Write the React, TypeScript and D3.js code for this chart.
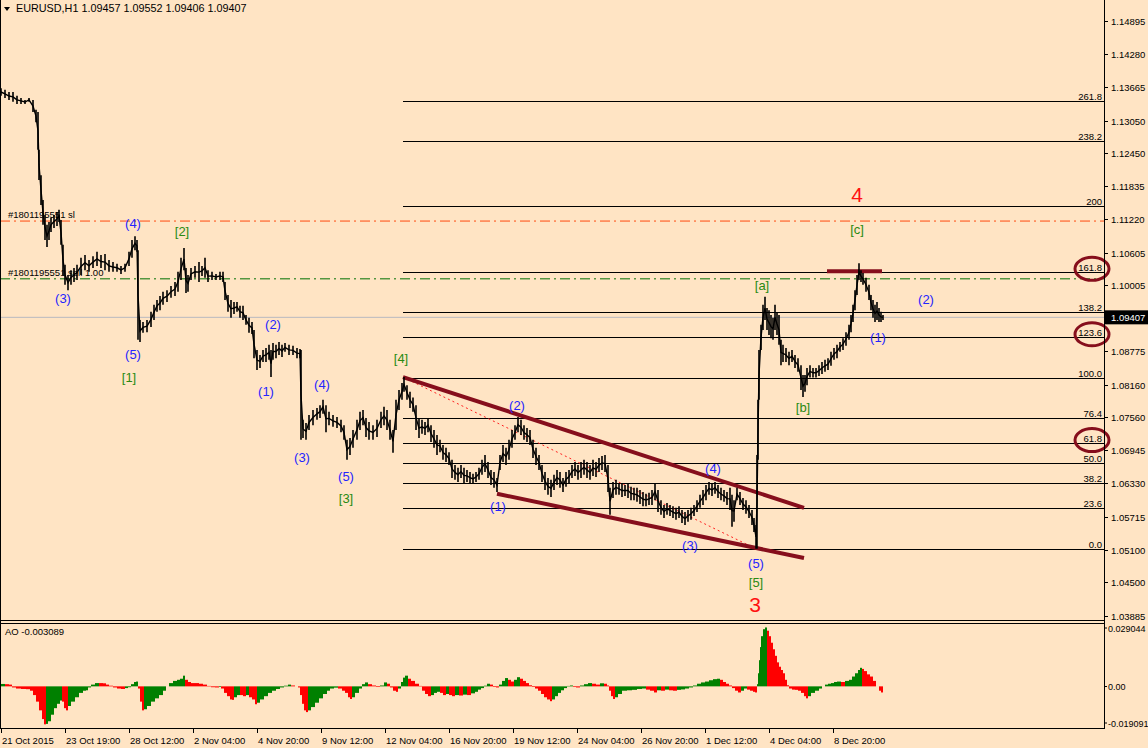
import React, { useEffect } from "react";
import * as d3 from "d3";

// ---------------- DATA ----------------
const symbolHeader = "EURUSD,H1  1.09457 1.09552 1.09406 1.09407";
const aoHeader = "AO -0.003089";
const lastPrice = 1.09407;

const priceTickLabels = ["1.14895","1.14280","1.13665","1.13050","1.12450","1.11835","1.11220","1.10605","1.10005","1.08775","1.08160","1.07560","1.06945","1.06330","1.05715","1.05100","1.04500","1.03885"];
const aoTickLabels = ["0.029044", "0.00", "-0.019091"];
const aoTickValues = [0.029044, 0, -0.019091];

const timeTickBars = [0, 64, 128, 192, 256, 320, 384, 448, 512, 576, 640, 704, 768, 832];
const timeTickLabels = ["21 Oct 2015","23 Oct 19:00","28 Oct 12:00","2 Nov 04:00","4 Nov 20:00","9 Nov 12:00","12 Nov 04:00","16 Nov 20:00","19 Nov 12:00","24 Nov 04:00","26 Nov 20:00","1 Dec 12:00","4 Dec 04:00","8 Dec 20:00"];

// sampled hourly bars (bar index, high, low)
const barIdx = [0,4,8,12,16,20,24,28,32,35,37,38,40,42,44,46,48,50,53,56,58,60,62,64,67,70,73,76,80,84,88,92,96,100,104,108,112,116,120,124,128,131,134,136,137,139,142,146,150,153,156,159,162,166,170,174,177,180,183,185,187,190,194,198,201,204,207,211,215,219,222,224,227,230,233,236,239,242,245,248,251,253,256,259,262,265,268,270,272,275,278,281,284,288,292,296,299,300,302,305,308,312,316,319,322,325,328,332,336,340,343,346,349,352,356,359,362,365,368,372,376,380,383,386,389,392,395,398,401,403,406,409,412,415,418,421,424,427,430,433,436,439,442,445,448,451,454,457,460,463,466,469,472,475,478,481,484,487,490,493,496,499,502,505,508,511,514,517,520,523,526,529,532,535,538,541,544,547,550,553,556,559,562,565,568,571,574,577,580,583,586,589,592,595,598,601,604,607,609,612,615,618,621,624,627,630,633,636,639,642,645,648,651,654,657,660,663,666,669,672,675,678,681,684,687,690,693,696,699,702,705,708,711,714,717,720,723,726,729,731,733,736,739,742,745,748,751,753,755,756,757,758,760,762,764,766,768,770,772,774,776,778,780,782,785,788,791,794,797,800,802,804,806,809,812,815,818,821,824,827,830,833,836,839,842,845,848,850,852,854,856,858,860,862,865,868,870,872,874,876,878,880,882];
const barHigh = [1.1365,1.1362,1.1358,1.1358,1.1351,1.1347,1.1343,1.1347,1.1343,1.1325,1.1321,1.1251,1.1204,1.1158,1.1130,1.1112,1.1117,1.1125,1.1130,1.1136,1.1140,1.1121,1.1075,1.1038,1.1019,1.1028,1.1032,1.1038,1.1051,1.1056,1.1047,1.1054,1.1062,1.1056,1.1058,1.1047,1.1043,1.1040,1.1036,1.1040,1.1062,1.1084,1.1091,1.1084,1.1065,1.0936,1.0932,1.0936,1.0951,1.0964,1.0973,1.0980,1.0988,1.0991,1.0999,1.1006,1.1025,1.1051,1.1069,1.1032,1.1019,1.1032,1.1036,1.1043,1.1036,1.1051,1.1028,1.1025,1.1021,1.1025,1.1025,1.1006,1.0982,1.0973,1.0969,1.0969,1.0962,1.0962,1.0945,1.0940,1.0932,1.0917,1.0880,1.0871,1.0880,1.0884,1.0890,1.0880,1.0893,1.0890,1.0895,1.0890,1.0893,1.0890,1.0888,1.0884,1.0882,1.0880,1.0751,1.0745,1.0760,1.0769,1.0773,1.0778,1.0788,1.0778,1.0766,1.0760,1.0756,1.0751,1.0741,1.0714,1.0717,1.0732,1.0751,1.0766,1.0769,1.0754,1.0747,1.0741,1.0751,1.0766,1.0775,1.0769,1.0751,1.0732,1.0788,1.0806,1.0819,1.0830,1.0815,1.0803,1.0792,1.0778,1.0754,1.0751,1.0747,1.0754,1.0741,1.0732,1.0723,1.0714,1.0704,1.0699,1.0691,1.0677,1.0667,1.0662,1.0667,1.0662,1.0658,1.0654,1.0651,1.0654,1.0662,1.0677,1.0686,1.0673,1.0658,1.0654,1.0643,1.0686,1.0704,1.0699,1.0714,1.0732,1.0741,1.0756,1.0751,1.0741,1.0736,1.0732,1.0714,1.0699,1.0686,1.0667,1.0654,1.0643,1.0640,1.0649,1.0658,1.0654,1.0643,1.0654,1.0658,1.0667,1.0673,1.0667,1.0673,1.0677,1.0673,1.0667,1.0677,1.0673,1.0680,1.0684,1.0686,1.0667,1.0625,1.0636,1.0640,1.0634,1.0632,1.0630,1.0634,1.0627,1.0625,1.0625,1.0621,1.0617,1.0614,1.0616,1.0621,1.0634,1.0621,1.0602,1.0593,1.0597,1.0593,1.0591,1.0588,1.0591,1.0584,1.0580,1.0584,1.0588,1.0593,1.0602,1.0612,1.0621,1.0630,1.0636,1.0632,1.0636,1.0630,1.0625,1.0621,1.0617,1.0625,1.0612,1.0602,1.0625,1.0617,1.0606,1.0602,1.0593,1.0584,1.0569,1.0556,1.0686,1.0788,1.0880,1.0927,1.0964,1.0979,1.0958,1.0954,1.0945,1.0940,1.0964,1.0949,1.0945,1.0899,1.0890,1.0884,1.0877,1.0880,1.0871,1.0865,1.0852,1.0834,1.0834,1.0847,1.0852,1.0847,1.0847,1.0852,1.0858,1.0862,1.0865,1.0877,1.0884,1.0890,1.0895,1.0902,1.0913,1.0927,1.0945,1.0964,1.0991,1.1019,1.1041,1.1028,1.1023,1.1014,1.1001,1.0982,1.0973,1.0964,1.0969,1.0958,1.0951,1.0945];
const barLow = [1.1351,1.1347,1.1343,1.1340,1.1336,1.1336,1.1336,1.1340,1.1321,1.1302,1.1251,1.1195,1.1149,1.1112,1.1084,1.1071,1.1084,1.1099,1.1106,1.1110,1.1117,1.1075,1.1019,1.1001,1.0991,1.1001,1.1006,1.1010,1.1019,1.1028,1.1025,1.1032,1.1036,1.1032,1.1028,1.1025,1.1025,1.1025,1.1021,1.1025,1.1036,1.1051,1.1065,1.1062,1.0899,1.0895,1.0912,1.0913,1.0923,1.0936,1.0951,1.0954,1.0964,1.0969,1.0977,1.0980,1.0988,1.1010,1.1028,1.0986,1.0988,1.1010,1.1014,1.1006,1.1017,1.1014,1.1006,1.1010,1.1010,1.1010,1.1006,1.0973,1.0951,1.0940,1.0947,1.0951,1.0940,1.0936,1.0927,1.0912,1.0910,1.0865,1.0843,1.0847,1.0858,1.0858,1.0862,1.0830,1.0862,1.0865,1.0871,1.0867,1.0877,1.0871,1.0871,1.0865,1.0865,1.0714,1.0717,1.0714,1.0732,1.0741,1.0751,1.0754,1.0762,1.0728,1.0741,1.0738,1.0736,1.0728,1.0714,1.0677,1.0686,1.0699,1.0714,1.0732,1.0741,1.0719,1.0714,1.0714,1.0719,1.0736,1.0741,1.0732,1.0714,1.0690,1.0732,1.0769,1.0788,1.0803,1.0788,1.0773,1.0766,1.0732,1.0717,1.0725,1.0723,1.0728,1.0710,1.0699,1.0686,1.0691,1.0677,1.0673,1.0667,1.0643,1.0640,1.0636,1.0643,1.0634,1.0636,1.0634,1.0632,1.0636,1.0640,1.0649,1.0654,1.0643,1.0630,1.0625,1.0617,1.0658,1.0673,1.0667,1.0677,1.0699,1.0714,1.0728,1.0723,1.0714,1.0710,1.0704,1.0680,1.0667,1.0658,1.0636,1.0621,1.0612,1.0608,1.0621,1.0630,1.0625,1.0617,1.0627,1.0634,1.0643,1.0647,1.0640,1.0643,1.0649,1.0643,1.0640,1.0647,1.0645,1.0654,1.0658,1.0654,1.0617,1.0575,1.0606,1.0612,1.0612,1.0608,1.0610,1.0606,1.0602,1.0602,1.0599,1.0595,1.0591,1.0591,1.0593,1.0593,1.0602,1.0580,1.0575,1.0569,1.0575,1.0573,1.0569,1.0566,1.0569,1.0560,1.0556,1.0562,1.0566,1.0573,1.0580,1.0588,1.0593,1.0602,1.0612,1.0610,1.0614,1.0606,1.0602,1.0599,1.0593,1.0584,1.0553,1.0562,1.0602,1.0593,1.0584,1.0577,1.0569,1.0556,1.0543,1.0512,1.0512,1.0677,1.0788,1.0880,1.0917,1.0936,1.0917,1.0908,1.0902,1.0899,1.0917,1.0908,1.0890,1.0852,1.0858,1.0858,1.0852,1.0858,1.0847,1.0840,1.0806,1.0793,1.0803,1.0815,1.0829,1.0829,1.0829,1.0832,1.0836,1.0840,1.0843,1.0851,1.0862,1.0865,1.0877,1.0880,1.0888,1.0899,1.0913,1.0932,1.0954,1.0982,1.1010,1.1006,1.1001,1.0988,1.0973,1.0954,1.0940,1.0932,1.0936,1.0932,1.0932,1.0936];

// Awesome Oscillator samples (bar index, value)
const aoIdx = [0,4,8,11,15,20,25,29,32,35,38,41,43,45,47,50,53,56,59,61,63,65,67,70,74,78,82,85,87,90,94,98,102,105,108,112,116,120,124,127,130,133,135,137,139,141,143,146,150,154,158,162,165,168,172,176,179,182,184,187,190,194,198,202,206,210,214,218,220,223,226,229,231,233,236,239,242,245,248,251,254,256,259,263,267,271,275,279,283,287,290,294,297,299,301,303,305,307,310,314,318,322,326,329,333,337,341,344,347,349,351,354,358,361,364,367,371,375,379,383,386,389,392,395,397,400,402,404,407,410,414,418,421,424,427,430,433,436,439,442,445,448,451,454,458,462,466,470,474,477,480,483,486,489,492,495,498,501,504,507,510,513,516,519,522,525,528,531,534,537,540,543,546,549,551,554,557,560,563,566,569,572,575,579,583,587,591,595,599,603,606,608,610,612,614,617,621,626,631,636,641,645,649,653,656,660,664,668,672,676,680,684,688,692,696,700,704,708,712,716,719,722,725,728,731,734,737,740,743,746,749,752,754,756,757,758,759,760,762,764,766,768,770,772,774,776,778,780,782,784,786,788,791,794,797,800,803,805,807,810,814,818,821,824,827,830,833,836,840,844,848,851,854,857,859,861,863,866,869,872,875,878,880,882];
const aoValue = [0.0011,0.0010,0.0008,-0.0005,-0.0010,-0.0012,-0.0013,-0.0020,-0.0040,-0.0070,-0.0110,-0.0150,-0.0174,-0.0172,-0.0160,-0.0130,-0.0100,-0.0080,-0.0065,-0.0070,-0.0100,-0.0110,-0.0090,-0.0070,-0.0050,-0.0030,-0.0020,-0.0018,-0.0005,0.0008,0.0015,0.0015,0.0014,0.0008,0.0003,-0.0005,-0.0010,-0.0012,-0.0008,-0.0004,0.0010,0.0020,0.0022,-0.0010,-0.0070,-0.0110,-0.0105,-0.0090,-0.0070,-0.0055,-0.0040,-0.0020,0.0000,0.0015,0.0025,0.0030,0.0035,0.0049,0.0030,0.0020,0.0015,0.0015,0.0012,0.0008,0.0002,-0.0004,-0.0005,-0.0003,-0.0010,-0.0030,-0.0045,-0.0060,-0.0062,-0.0050,-0.0040,-0.0040,-0.0045,-0.0040,-0.0050,-0.0060,-0.0082,-0.0075,-0.0060,-0.0045,-0.0030,-0.0020,-0.0012,-0.0005,0.0003,0.0008,0.0004,0.0000,-0.0005,-0.0040,-0.0080,-0.0110,-0.0118,-0.0110,-0.0095,-0.0075,-0.0055,-0.0035,-0.0020,-0.0010,-0.0006,-0.0010,-0.0020,-0.0030,-0.0050,-0.0058,-0.0050,-0.0030,-0.0010,0.0010,0.0018,0.0010,0.0004,-0.0003,0.0004,0.0018,0.0012,-0.0005,-0.0020,-0.0025,-0.0010,0.0020,0.0040,0.0049,0.0035,0.0025,0.0012,0.0002,-0.0020,-0.0035,-0.0045,-0.0040,-0.0030,-0.0025,-0.0030,-0.0040,-0.0035,-0.0040,-0.0045,-0.0040,-0.0042,-0.0038,-0.0040,-0.0032,-0.0025,-0.0015,-0.0008,0.0003,0.0012,0.0008,-0.0003,-0.0005,0.0008,0.0025,0.0038,0.0030,0.0022,0.0030,0.0042,0.0035,0.0025,0.0015,0.0005,-0.0003,-0.0010,-0.0020,-0.0035,-0.0050,-0.0060,-0.0068,-0.0060,-0.0045,-0.0030,-0.0018,-0.0008,0.0002,0.0004,-0.0003,-0.0005,0.0004,0.0010,0.0015,0.0012,0.0008,0.0014,0.0012,0.0004,-0.0020,-0.0045,-0.0058,-0.0050,-0.0035,-0.0020,-0.0018,-0.0016,-0.0012,-0.0010,-0.0015,-0.0020,-0.0028,-0.0018,-0.0020,-0.0015,-0.0018,-0.0020,-0.0016,-0.0014,-0.0010,-0.0005,0.0004,0.0012,0.0018,0.0022,0.0028,0.0033,0.0035,0.0030,0.0020,0.0012,0.0004,-0.0008,-0.0020,-0.0028,-0.0020,-0.0010,-0.0015,-0.0020,-0.0025,-0.0028,0.0010,0.0060,0.0120,0.0180,0.0230,0.0262,0.0270,0.0255,0.0230,0.0200,0.0170,0.0140,0.0110,0.0090,0.0075,0.0060,0.0030,0.0005,-0.0010,-0.0015,-0.0016,-0.0020,-0.0030,-0.0045,-0.0055,-0.0045,-0.0030,-0.0020,-0.0010,0.0000,0.0008,0.0012,0.0015,0.0020,0.0022,0.0020,0.0025,0.0030,0.0045,0.0060,0.0075,0.0085,0.0080,0.0070,0.0055,0.0045,0.0025,0.0000,-0.0020,-0.0028,-0.0031];

// Fibonacci expansion (anchored at [4] -> [5])
const fibStartBar = 402;
const fibZeroPrice = 1.0512;
const fibHundredPrice = 1.0829;
const fibLevels = [0, 23.6, 38.2, 50, 61.8, 76.4, 100, 123.6, 138.2, 161.8, 200, 238.2, 261.8];
const fibLevelLabels = ["0.0","23.6","38.2","50.0","61.8","76.4","100.0","123.6","138.2","161.8","200","238.2","261.8"];
const circledLevels = [161.8, 123.6, 61.8];

// order lines
const stopLossPrice = 1.1119;
const stopLossLabel = "#1801195551 sl";
const sellPrice = 1.1012;
const sellLabel = "#1801195551 sell 1.00";

// trend lines [bar1, price1, bar2, price2]
const channelUpper = [402, 1.0830, 803, 1.0588];
const channelLower = [496, 1.0614, 803, 1.0495];
const dottedLine = [402, 1.0830, 755, 1.0512];
const topMarker = [826, 1.1026, 881, 1.1026];

// wave labels
const waveText = ["(3)","(4)","[2]","(5)","[1]","(2)","(1)","[4]","(4)","(3)","(5)","[3]","(2)","(1)","(4)","(3)","(5)","[5]","3","[a]","[b]","(1)","4","[c]","(2)"];
const waveBar = [62,132,181,132,128,272,265,400,321,301,345,345,516,497,712,689,755,755,754,761,802,877,856,856,925];
const wavePrice = [1.0975,1.1115,1.1099,1.0871,1.0830,1.0927,1.0804,1.0864,1.0817,1.0682,1.0645,1.0606,1.0778,1.0590,1.0661,1.0519,1.0484,1.0449,1.0409,1.0999,1.0773,1.0904,1.1169,1.1104,1.0973];
const waveDegree = ["minor","minor","inter","minor","inter","minor","minor","inter","minor","minor","minor","inter","minor","minor","minor","minor","minor","inter","primary","inter","inter","minor","primary","inter","minor"];

// ---------------- CHART ----------------
const W = 1148, H = 748;
const AXIS_X = 1104;
const FONT = "'Liberation Sans', Arial, sans-serif";
const BG = "#FFE4C4";

export default function App() {
  useEffect(() => {
    document.body.style.margin = "0";
  }, []);

  const x = d3.scaleLinear().domain([0, 1103]).range([1, AXIS_X]);
  const y = d3.scaleLinear().domain([1.03885, 1.14895]).range([615.5, 21]);
  const ao = d3.scaleLinear().domain([-0.019091, 0.029044]).range([728, 623]);

  // mid line through bar ranges + vertical high/low whiskers
  const mids: [number, number][] = barIdx.map((b, i) => [b, (barHigh[i] + barLow[i]) / 2]);
  const midLine = d3.line<[number, number]>().x(d => x(d[0])).y(d => y(d[1]))(mids) || "";
  const whiskers = barIdx.map((b, i) => `M${x(b).toFixed(1)},${y(barHigh[i]).toFixed(1)}V${y(barLow[i]).toFixed(1)}`).join("");

  const fibPrice = (lv: number) => fibZeroPrice + (fibHundredPrice - fibZeroPrice) * lv / 100;

  const waveColor: Record<string, string> = { minor: "#2424FF", inter: "#2A8A12", primary: "#FF1010" };
  const waveSize: Record<string, number> = { minor: 13, inter: 13, primary: 21 };

  const seg = (s: number[], key: string, stroke: string, sw: number, dash?: string) => (
    <line key={key} x1={x(s[0])} y1={y(s[1])} x2={x(s[2])} y2={y(s[3])} stroke={stroke} strokeWidth={sw} strokeDasharray={dash} />
  );

  const zeroY = ao(0);

  return (
    <svg width={W} height={H} style={{ position: "fixed", left: 0, top: 0, display: "block", background: BG }} fontFamily={FONT}>
      <rect x={0} y={0} width={W} height={H} fill={BG} />

      {/* header */}
      <path d="M4,7 L10,7 L7,11 Z" fill="#000" />
      <text x={16} y={12} fontSize={10.8} fill="#000">{symbolHeader}</text>

      {/* current price line */}
      <line x1={0} x2={AXIS_X} y1={y(lastPrice)} y2={y(lastPrice)} stroke="#B8B8C0" strokeWidth={1} />

      {/* fibonacci levels */}
      {fibLevels.map((lv, i) => {
        const yy = Math.round(y(fibPrice(lv))) + 0.5;
        return (
          <g key={"fib" + i}>
            <line x1={x(fibStartBar)} x2={AXIS_X} y1={yy} y2={yy} stroke="#000" strokeWidth={1} />
            <text x={AXIS_X - 2} y={yy - 2} textAnchor="end" fontSize={9.5} fill="#000">{fibLevelLabels[i]}</text>
          </g>
        );
      })}

      {/* order lines */}
      <line x1={0} x2={AXIS_X} y1={y(stopLossPrice)} y2={y(stopLossPrice)} stroke="#FF4A10" strokeWidth={1} strokeDasharray="10,4,2,4" />
      <text x={8} y={y(stopLossPrice) - 3} fontSize={9.5} fill="#000">{stopLossLabel}</text>
      <line x1={0} x2={AXIS_X} y1={y(sellPrice)} y2={y(sellPrice)} stroke="#007000" strokeWidth={1} strokeDasharray="10,4,2,4" />
      <text x={8} y={y(sellPrice) - 3} fontSize={9.5} fill="#000">{sellLabel}</text>

      {/* channel & markers */}
      {seg(dottedLine, "dot", "#FF2020", 1, "2,3")}
      {seg(channelUpper, "up", "#860E1C", 4)}
      {seg(channelLower, "lo", "#860E1C", 4)}
      {seg(topMarker, "top", "#860E1C", 4)}

      {/* price */}
      <path d={whiskers} fill="none" stroke="#000" strokeWidth={1.6} />
      <path d={midLine} fill="none" stroke="#000" strokeWidth={1.4} />

      {/* wave labels */}
      {waveText.map((t, i) => (
        <text key={"w" + i} x={x(waveBar[i])} y={y(wavePrice[i])} textAnchor="middle" dominantBaseline="central"
          fontSize={waveSize[waveDegree[i]]} fill={waveColor[waveDegree[i]]}>{t}</text>
      ))}

      {/* circled fib labels */}
      {circledLevels.map((lv, i) => (
        <ellipse key={"c" + i} cx={1092} cy={y(fibPrice(lv)) - 3} rx={17} ry={11.5} fill="none" stroke="#860E1C" strokeWidth={3} />
      ))}

      {/* panel frames */}
      <line x1={0.5} x2={0.5} y1={0} y2={728} stroke="#000" />
      <line x1={AXIS_X + 0.5} x2={AXIS_X + 0.5} y1={0} y2={728.5} stroke="#000" />
      <line x1={0} x2={AXIS_X} y1={620.5} y2={620.5} stroke="#000" />
      <line x1={0} x2={AXIS_X} y1={623.5} y2={623.5} stroke="#000" />
      <line x1={0} x2={AXIS_X + 1} y1={728.5} y2={728.5} stroke="#000" />

      {/* price axis */}
      {priceTickLabels.map((lbl, i) => {
        const yy = Math.round(y(+lbl)) + 0.5;
        return (
          <g key={"pt" + i}>
            <line x1={AXIS_X} x2={AXIS_X + 4} y1={yy} y2={yy} stroke="#000" />
            <text x={AXIS_X + 7} y={yy + 3.5} fontSize={9.5} fill="#000">{lbl}</text>
          </g>
        );
      })}
      <rect x={AXIS_X + 1} y={y(lastPrice) - 7} width={W - AXIS_X - 1} height={14} fill="#000" />
      <text x={AXIS_X + 7} y={y(lastPrice) + 3.5} fontSize={9.5} fill="#FFF">{lastPrice.toFixed(5)}</text>

      {/* AO */}
      <text x={5} y={635} fontSize={9.5} fill="#000">{aoHeader}</text>
      {aoIdx.slice(0, -1).map((b, i) => {
        const v = aoValue[i];
        const rising = i === 0 ? true : v > aoValue[i - 1];
        const x0 = x(b), x1 = x(aoIdx[i + 1]);
        const yv = ao(v);
        return (
          <rect key={"ao" + i} x={x0} width={Math.max(1, x1 - x0)} y={Math.min(yv, zeroY)} height={Math.abs(yv - zeroY)}
            fill={rising ? "#008000" : "#FF0000"} />
        );
      })}
      {aoTickValues.map((v, i) => {
        const yy = i === 0 ? 628 : i === 2 ? 723 : Math.round(ao(v)) + 0.5;
        return (
          <g key={"at" + i}>
            <line x1={AXIS_X} x2={AXIS_X + 3} y1={yy} y2={yy} stroke="#000" />
            <text x={AXIS_X + 4} y={yy + 3.5} fontSize={9} fill="#000">{aoTickLabels[i]}</text>
          </g>
        );
      })}

      {/* time axis */}
      {timeTickBars.map((b, i) => (
        <g key={"tt" + i}>
          <line x1={x(b) + 0.5} x2={x(b) + 0.5} y1={728} y2={733} stroke="#000" />
          <text x={x(b) + 1} y={744} fontSize={9.5} fill="#000">{timeTickLabels[i]}</text>
        </g>
      ))}
    </svg>
  );
}
